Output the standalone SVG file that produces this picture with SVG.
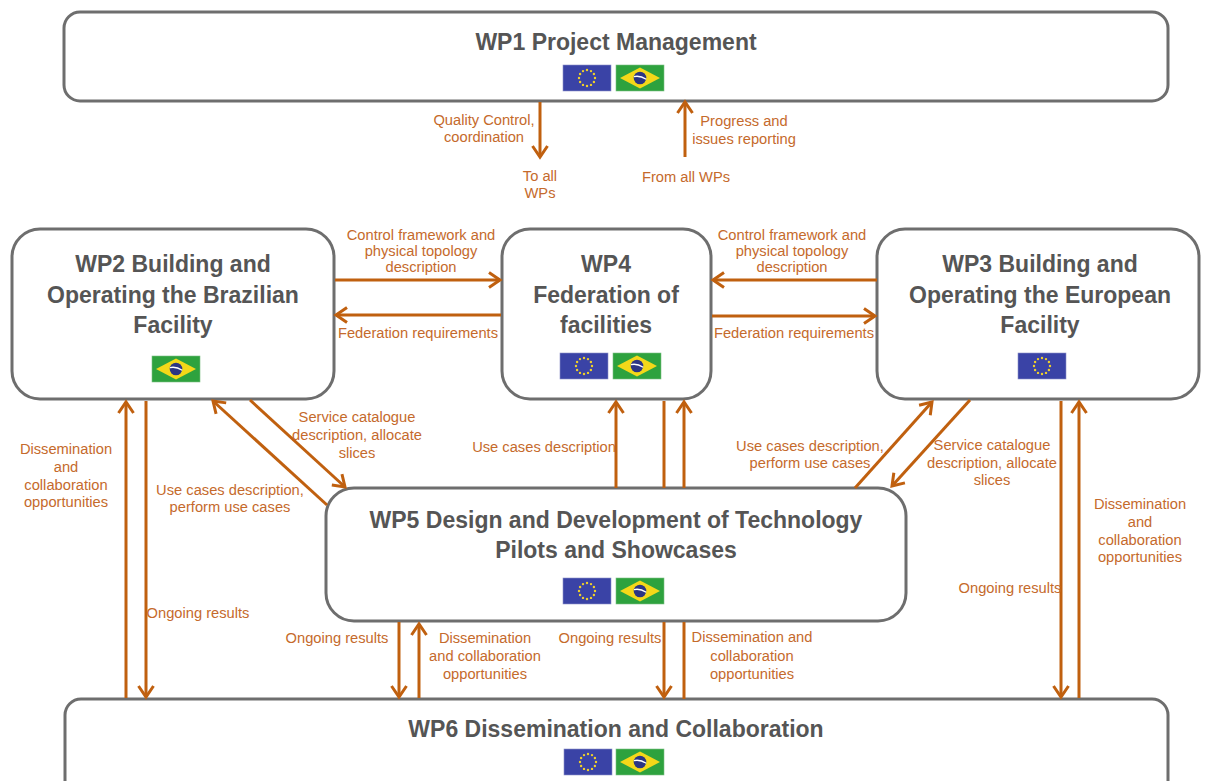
<svg xmlns="http://www.w3.org/2000/svg" width="1206" height="781" viewBox="0 0 1206 781">
<style>
.box{fill:#fff;stroke:#6e6e6e;stroke-width:3}
.title{font-family:"Liberation Sans",Arial,sans-serif;font-weight:bold;font-size:23px;fill:#555;text-anchor:middle}
.lbl{font-family:"Liberation Sans",Arial,sans-serif;font-size:14.7px;fill:#c56a2c;text-anchor:middle}
.c{fill:none;stroke:#c0600f;stroke-width:3}
.a{marker-end:url(#ah)}
</style>
<defs>
<marker id="ah" viewBox="-13 -10 16 20" refX="0" refY="0" markerWidth="16" markerHeight="20" markerUnits="userSpaceOnUse" orient="auto" overflow="visible">
<path d="M-11,-7.5 L0,0 L-11,7.5" fill="none" stroke="#c0600f" stroke-width="3"/>
</marker>
<g id="eu">
<rect x="0" y="0" width="48" height="26" fill="#3a43a6" stroke="#8c90c8" stroke-width="0.6"/>
<g fill="#f0d02a">
<circle cx="24" cy="5" r="1.2"/><circle cx="28" cy="6.1" r="1.2"/><circle cx="30.9" cy="9" r="1.2"/>
<circle cx="32" cy="13" r="1.2"/><circle cx="30.9" cy="17" r="1.2"/><circle cx="28" cy="19.9" r="1.2"/>
<circle cx="24" cy="21" r="1.2"/><circle cx="20" cy="19.9" r="1.2"/><circle cx="17.1" cy="17" r="1.2"/>
<circle cx="16" cy="13" r="1.2"/><circle cx="17.1" cy="9" r="1.2"/><circle cx="20" cy="6.1" r="1.2"/>
</g>
</g>
<g id="br">
<rect x="0" y="0" width="48" height="26" fill="#2ea23e" stroke="#7cc084" stroke-width="0.6"/>
<polygon points="4,13 24,2.5 44,13 24,23.5" fill="#f4d819"/>
<circle cx="24" cy="13" r="6.3" fill="#2b3584"/>
<path d="M17.9,11.6 Q24,10.2 30.2,14.2" fill="none" stroke="#fff" stroke-width="1.3"/>
</g>
</defs>
<rect width="1206" height="781" fill="#fff"/>

<g id="wp1">
<rect class="box" x="64" y="12" width="1104" height="89" rx="16"/>
<text class="title" x="616" y="50">WP1 Project Management</text>
<use href="#eu" x="563" y="65"/><use href="#br" x="616" y="65"/>
</g>

<g id="wp2">
<rect class="box" x="12" y="229" width="322" height="170" rx="28"/>
<text class="title" x="173" y="272">WP2 Building and</text>
<text class="title" x="173" y="303">Operating the Brazilian</text>
<text class="title" x="173" y="333">Facility</text>
<use href="#br" x="152" y="356"/>
</g>

<g id="wp4">
<rect class="box" x="502" y="229" width="209" height="170" rx="28"/>
<text class="title" x="606" y="272">WP4</text>
<text class="title" x="606" y="303">Federation of</text>
<text class="title" x="606" y="333">facilities</text>
<use href="#eu" x="560" y="353"/><use href="#br" x="613" y="353"/>
</g>

<g id="wp3">
<rect class="box" x="877" y="229" width="322" height="170" rx="28"/>
<text class="title" x="1040" y="272">WP3 Building and</text>
<text class="title" x="1040" y="303">Operating the European</text>
<text class="title" x="1040" y="333">Facility</text>
<use href="#eu" x="1018" y="353"/>
</g>

<g id="wp5">
<rect class="box" x="326" y="488" width="580" height="133" rx="28"/>
<text class="title" x="616" y="528">WP5 Design and Development of Technology</text>
<text class="title" x="616" y="558">Pilots and Showcases</text>
<use href="#eu" x="563" y="578"/><use href="#br" x="616" y="578"/>
</g>

<g id="wp6">
<rect class="box" x="65" y="699" width="1103" height="100" rx="16"/>
<text class="title" x="616" y="737">WP6 Dissemination and Collaboration</text>
<use href="#eu" x="564" y="749"/><use href="#br" x="616" y="749"/>
</g>

<g id="connectors">
<line class="c a" x1="540" y1="102" x2="540" y2="157"/>
<line class="c a" x1="685" y1="157" x2="685" y2="102"/>
<line class="c a" x1="335" y1="280" x2="500" y2="280"/>
<line class="c a" x1="501" y1="315" x2="336" y2="315"/>
<line class="c a" x1="877" y1="280" x2="713" y2="280"/>
<line class="c a" x1="712" y1="316" x2="875" y2="316"/>
<line class="c a" x1="126" y1="698" x2="126" y2="402"/>
<line class="c a" x1="146" y1="401" x2="146" y2="697"/>
<line class="c a" x1="327" y1="505" x2="213" y2="401"/>
<line class="c a" x1="250" y1="400" x2="345" y2="487"/>
<line class="c a" x1="616" y1="488" x2="616" y2="402"/>
<line class="c" x1="664" y1="401" x2="664" y2="488"/>
<line class="c a" x1="684" y1="488" x2="684" y2="402"/>
<line class="c a" x1="855" y1="488" x2="932" y2="402"/>
<line class="c a" x1="970" y1="400" x2="892" y2="486"/>
<line class="c a" x1="1061" y1="401" x2="1061" y2="697"/>
<line class="c a" x1="1079" y1="698" x2="1079" y2="402"/>
<line class="c a" x1="399" y1="622" x2="399" y2="697"/>
<line class="c a" x1="419" y1="698" x2="419" y2="624"/>
<line class="c a" x1="664" y1="622" x2="664" y2="697"/>
<line class="c" x1="684" y1="622" x2="684" y2="699"/>
</g>

<g id="labels">
<text class="lbl" x="484" y="125">Quality Control,</text>
<text class="lbl" x="484" y="142">coordination</text>
<text class="lbl" x="540" y="181">To all</text>
<text class="lbl" x="540" y="198">WPs</text>
<text class="lbl" x="744" y="126">Progress and</text>
<text class="lbl" x="744" y="144">issues reporting</text>
<text class="lbl" x="686" y="182">From all WPs</text>
<text class="lbl" x="421" y="240">Control framework and</text>
<text class="lbl" x="421" y="256">physical topology</text>
<text class="lbl" x="421" y="272">description</text>
<text class="lbl" x="418" y="338">Federation requirements</text>
<text class="lbl" x="792" y="240">Control framework and</text>
<text class="lbl" x="792" y="256">physical topology</text>
<text class="lbl" x="792" y="272">description</text>
<text class="lbl" x="794" y="338">Federation requirements</text>
<text class="lbl" x="66" y="454">Dissemination</text>
<text class="lbl" x="66" y="472">and</text>
<text class="lbl" x="66" y="490">collaboration</text>
<text class="lbl" x="66" y="507">opportunities</text>
<text class="lbl" x="198" y="618">Ongoing results</text>
<text class="lbl" x="357" y="422">Service catalogue</text>
<text class="lbl" x="357" y="440">description, allocate</text>
<text class="lbl" x="357" y="458">slices</text>
<text class="lbl" x="230" y="495">Use cases description,</text>
<text class="lbl" x="230" y="512">perform use cases</text>
<text class="lbl" x="544" y="452">Use cases description</text>
<text class="lbl" x="810" y="451">Use cases description,</text>
<text class="lbl" x="810" y="468">perform use cases</text>
<text class="lbl" x="992" y="450">Service catalogue</text>
<text class="lbl" x="992" y="468">description, allocate</text>
<text class="lbl" x="992" y="485">slices</text>
<text class="lbl" x="1140" y="509">Dissemination</text>
<text class="lbl" x="1140" y="527">and</text>
<text class="lbl" x="1140" y="545">collaboration</text>
<text class="lbl" x="1140" y="562">opportunities</text>
<text class="lbl" x="1010" y="593">Ongoing results</text>
<text class="lbl" x="337" y="643">Ongoing results</text>
<text class="lbl" x="485" y="643">Dissemination</text>
<text class="lbl" x="485" y="661">and collaboration</text>
<text class="lbl" x="485" y="679">opportunities</text>
<text class="lbl" x="610" y="643">Ongoing results</text>
<text class="lbl" x="752" y="642">Dissemination and</text>
<text class="lbl" x="752" y="661">collaboration</text>
<text class="lbl" x="752" y="679">opportunities</text>
</g>
</svg>
